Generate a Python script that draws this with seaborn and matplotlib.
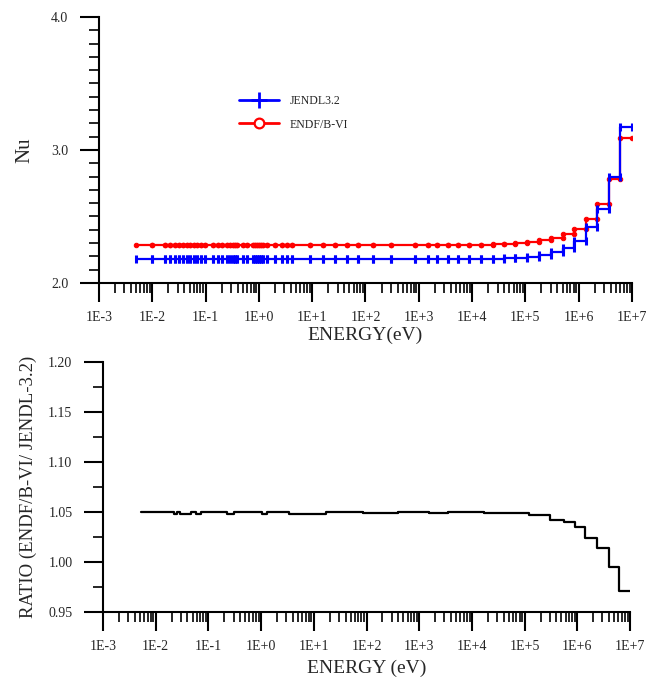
import numpy as np
import pandas as pd
import matplotlib
matplotlib.use("Agg")
import matplotlib.pyplot as plt
import matplotlib.ticker as mticker
from matplotlib.lines import Line2D
import seaborn as sns

# Group boundaries (eV)
energy_edges = [
    5.0e-3, 1.0e-2, 1.75e-2, 2.15e-2, 2.7e-2, 3.15e-2, 3.8e-2, 4.5e-2, 5.1e-2, 6.0e-2,
    6.9e-2, 8.1e-2, 9.8e-2, 0.138, 0.17, 0.205, 0.25, 0.29, 0.32, 0.35,
    0.39, 0.50, 0.60, 0.78, 0.85, 0.92, 1.0, 1.1, 1.2, 1.4,
    2.0, 2.7, 3.4, 4.2, 9.1, 15.9, 27.0, 45.0, 72.0, 138.0,
    300.0, 850.0, 1.48e3, 2.2e3, 3.5e3, 5.4e3, 8.9e3, 1.5e4, 2.5e4, 3.9e4,
    6.3e4, 1.05e5, 1.83e5, 3.02e5, 4.98e5, 8.21e5, 1.353e6, 2.231e6, 3.679e6, 6.065e6,
    1.0e7,
]

# Nu per group, JENDL-3.2
nu_jendl = [
    2.180, 2.180, 2.180, 2.180, 2.180, 2.180, 2.180, 2.180, 2.180, 2.180,
    2.180, 2.180, 2.180, 2.180, 2.180, 2.180, 2.180, 2.180, 2.180, 2.180,
    2.180, 2.180, 2.180, 2.180, 2.180, 2.180, 2.180, 2.180, 2.180, 2.180,
    2.180, 2.180, 2.180, 2.180, 2.180, 2.180, 2.180, 2.180, 2.180, 2.180,
    2.180, 2.180, 2.180, 2.180, 2.180, 2.180, 2.180, 2.181, 2.182, 2.185,
    2.190, 2.198, 2.210, 2.235, 2.260, 2.318, 2.419, 2.554, 2.800, 3.171,
]

# Nu per group, ENDF/B-VI
nu_endf = [
    2.286, 2.286, 2.286, 2.286, 2.286, 2.286, 2.286, 2.286, 2.286, 2.286,
    2.286, 2.286, 2.286, 2.286, 2.286, 2.286, 2.286, 2.286, 2.286, 2.286,
    2.286, 2.286, 2.286, 2.286, 2.286, 2.286, 2.286, 2.286, 2.286, 2.286,
    2.286, 2.286, 2.286, 2.286, 2.286, 2.286, 2.286, 2.286, 2.286, 2.286,
    2.286, 2.286, 2.286, 2.286, 2.286, 2.286, 2.286, 2.288, 2.293, 2.293,
    2.300, 2.308, 2.323, 2.336, 2.366, 2.404, 2.481, 2.592, 2.780, 3.088,
]

# Ratio ENDF/B-VI / JENDL-3.2
ratio_edges = [
    5.2e-3, 2.2e-2, 2.5e-2, 2.9e-2, 4.6e-2, 5.9e-2, 7.1e-2, 0.23, 0.30, 1.02,
    1.3, 3.4, 17.0, 85.0, 400.0, 1.5e3, 3.5e3, 1.66e4, 1.2e5, 3.0e5,
    5.5e5, 8.9e5, 1.38e6, 2.34e6, 4.0e6, 6.2e6, 1.0e7,
]
ratio_values = [
    1.050, 1.048, 1.050, 1.048, 1.050, 1.048, 1.050, 1.048, 1.050, 1.048,
    1.050, 1.048, 1.050, 1.0487, 1.0503, 1.0487, 1.0503, 1.0487, 1.047, 1.042,
    1.040, 1.0347, 1.0243, 1.0143, 0.9947, 0.971,
]

tick_energies = [1e-3, 1e-2, 1e-1, 1e0, 1e1, 1e2, 1e3, 1e4, 1e5, 1e6, 1e7]
tick_labels = ["1E-3", "1E-2", "1E-1", "1E+0", "1E+1", "1E+2",
               "1E+3", "1E+4", "1E+5", "1E+6", "1E+7"]


def to_steps(edges, values):
    # histogram -> step outline with a point at both ends of every group
    x = np.repeat(edges, 2)[1:-1]
    y = np.repeat(values, 2)
    return pd.DataFrame({"E": x, "v": y})


sns.set_theme(style="ticks")
plt.rcParams["font.family"] = ["Liberation Serif", "DejaVu Serif"]
plt.rcParams["axes.linewidth"] = 1.5

fig = plt.figure(figsize=(6.5, 6.84), dpi=100)
ax1 = fig.add_axes([0.1523, 0.5863, 0.82, 0.3889])
ax2 = fig.add_axes([0.1585, 0.1053, 0.8108, 0.3655])

jendl = to_steps(energy_edges, nu_jendl)
endf = to_steps(energy_edges, nu_endf)
ratio = to_steps(ratio_edges, ratio_values)

sns.lineplot(data=endf, x="E", y="v", ax=ax1, estimator=None, sort=False,
             color="#ff0000", lw=1.6, marker="o", ms=3.2, mec="#ff0000",
             mfc="#ff0000", legend=False)
sns.lineplot(data=jendl, x="E", y="v", ax=ax1, estimator=None, sort=False,
             color="#0000ff", lw=1.6, marker="|", ms=6, mew=2.2, mec="#0000ff",
             legend=False)
sns.lineplot(data=ratio, x="E", y="v", ax=ax2, estimator=None, sort=False,
             color="black", lw=1.6, legend=False)

for ax in (ax1, ax2):
    ax.set_xscale("log")
    ax.set_xlim(1e-3, 1e7)
    ax.xaxis.set_major_locator(mticker.FixedLocator(tick_energies))
    ax.xaxis.set_major_formatter(mticker.FixedFormatter(tick_labels))
    ax.xaxis.set_minor_locator(mticker.LogLocator(base=10, subs=np.arange(2, 10), numticks=20))
    ax.xaxis.set_minor_formatter(mticker.NullFormatter())
    ax.tick_params(which="major", length=14, width=1.5, labelsize=10, color="black")
    ax.tick_params(which="minor", length=7.5, width=1.2, color="black")
    ax.tick_params(axis="x", which="major", pad=6)
    ax.tick_params(axis="y", which="major", pad=8)
    sns.despine(ax=ax)
    for side in ("left", "bottom"):
        ax.spines[side].set_color("black")
        ax.spines[side].set_linewidth(1.5)

ax1.set_ylim(2.0, 4.0)
ax1.yaxis.set_major_locator(mticker.MultipleLocator(1.0))
ax1.yaxis.set_minor_locator(mticker.MultipleLocator(0.1))
ax1.yaxis.set_major_formatter(mticker.FormatStrFormatter("%.1f"))
ax1.set_xlabel("ENERGY(eV)", fontsize=14, labelpad=2)
ax1.set_ylabel("Nu", fontsize=15, labelpad=12)

ax2.set_ylim(0.95, 1.20)
ax2.yaxis.set_major_locator(mticker.MultipleLocator(0.05))
ax2.yaxis.set_minor_locator(mticker.MultipleLocator(0.025))
ax2.yaxis.set_major_formatter(mticker.FormatStrFormatter("%.2f"))
ax2.set_xlabel("ENERGY (eV)", fontsize=14, labelpad=5)
ax2.set_ylabel("RATIO (ENDF/B-VI/ JENDL-3.2)", fontsize=13.5, labelpad=8)

handles = [
    Line2D([], [], color="#0000ff", lw=2, marker="+", ms=11, mew=2),
    Line2D([], [], color="#ff0000", lw=2, marker="o", ms=7, mew=1.6, mfc="white"),
]
ax1.legend(handles, ["JENDL3.2", "ENDF/B-VI"], loc="center left",
           bbox_to_anchor=(0.262, 0.64), frameon=False, fontsize=8.5,
           handlelength=3.4, handletextpad=0.9, labelspacing=1.0,
           borderpad=0, borderaxespad=0)

fig.savefig("out.png", dpi=100, facecolor="white")
